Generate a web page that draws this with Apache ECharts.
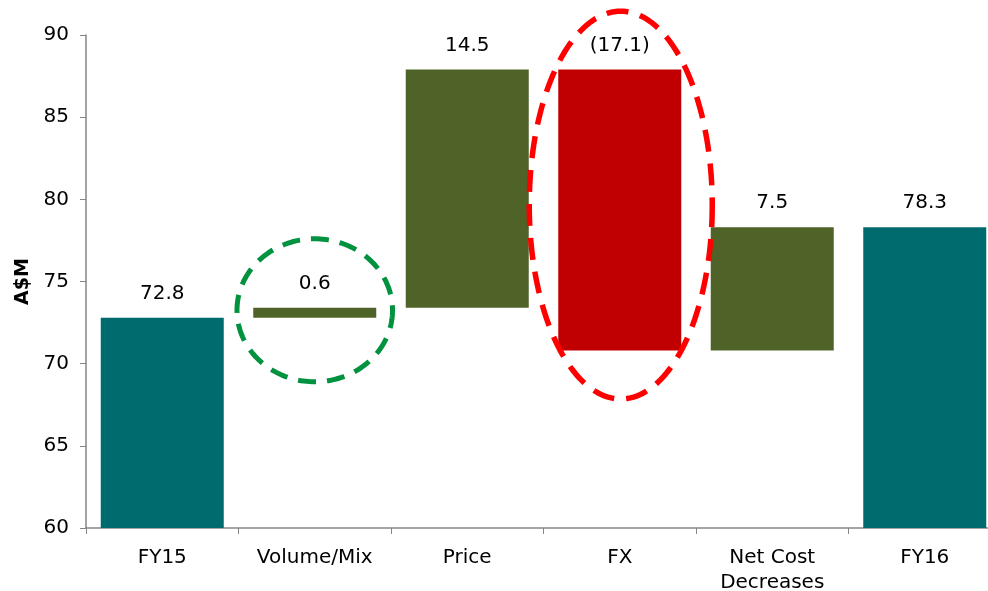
<!DOCTYPE html>
<html><head><meta charset="utf-8">
<script src="https://cdn.jsdelivr.net/npm/echarts@6/dist/echarts.min.js"></script>
<style>html,body{margin:0;padding:0;background:#fff}#c{width:988px;height:591px}</style>
</head><body><div id="c"></div>
<script>
const categories = ['FY15', 'Volume/Mix', 'Price', 'FX', 'Net Cost\nDecreases', 'FY16'];
const values = [72.8, 0.6, 14.5, -17.1, 7.5, 78.3];
const kinds = ['total', 'delta', 'delta', 'delta', 'delta', 'total'];
const yTicks = [60, 65, 70, 75, 80, 85, 90];

const TEAL = '#006B6E', OLIVE = '#4F6228', RED = '#C00000';

// running totals for waterfall
const base = [], pos = [], neg = [], tot = [];
let run = 0;
values.forEach((v, i) => {
  if (kinds[i] === 'total') {
    run = v;
    base.push(0); tot.push(v); pos.push('-'); neg.push('-');
  } else {
    const start = run, end = run + v;
    base.push(Math.min(start, end));
    if (v >= 0) { pos.push(v); neg.push('-'); } else { neg.push(-v); pos.push('-'); }
    tot.push('-');
    run = end;
  }
});

const fmt = v => v < 0 ? '(' + Math.abs(v).toFixed(1) + ')' : v.toFixed(1);
const font = 'DejaVu Sans';
const labelOpt = () => ({
  show: true, position: 'top', distance: 14, color: '#000',
  fontFamily: font, fontSize: 20,
  formatter: p => fmt(values[p.dataIndex])
});

const chart = echarts.init(document.getElementById('c'));
chart.setOption({
  animation: false,
  grid: { left: 86, right: -13, top: 35, bottom: 63, containLabel: false, outerBoundsMode: 'none' },
  xAxis: {
    type: 'category', data: categories,
    axisLine: { lineStyle: { color: '#868686', width: 1.5 } },
    axisTick: { show: true, length: 6, lineStyle: { color: '#868686' } },
    axisLabel: { color: '#000', fontFamily: font, fontSize: 20, margin: 17, lineHeight: 25, interval: 0 }
  },
  yAxis: {
    type: 'value', min: 60, max: 90, interval: 5,
    name: 'A$M', nameLocation: 'middle', nameGap: 52, nameRotate: 90,
    nameTextStyle: { color: '#000', fontFamily: font, fontSize: 19, fontWeight: 'bold' },
    axisLine: { show: true, lineStyle: { color: '#868686', width: 1.5 } },
    axisTick: { show: true, length: 6, lineStyle: { color: '#868686' } },
    splitLine: { show: false },
    axisLabel: { color: '#000', fontFamily: font, fontSize: 20, margin: 17,
      formatter: v => yTicks.includes(v) ? String(v) : '' }
  },
  series: [
    { type: 'bar', stack: 'w', data: base, barWidth: 123, itemStyle: { color: 'transparent' }, silent: true },
    { type: 'bar', stack: 'w', data: pos, barWidth: 123, itemStyle: { color: OLIVE }, label: labelOpt() },
    { type: 'bar', stack: 'w', data: neg, barWidth: 123, itemStyle: { color: RED }, label: labelOpt() },
    { type: 'bar', stack: 'w', data: tot, barWidth: 123, itemStyle: { color: TEAL }, label: labelOpt() }
  ]
});

// dashed ellipse annotations, positioned via axis scales
function ellipsePts(cx, cy, rx, ry) {
  const pts = [];
  for (let k = 0; k < 180; k++) {
    const a = k / 180 * Math.PI * 2;
    pts.push([cx + rx * Math.cos(a), cy + ry * Math.sin(a)]);
  }
  return pts;
}
const catW = chart.convertToPixel({ xAxisIndex: 0 }, categories[1]) - chart.convertToPixel({ xAxisIndex: 0 }, categories[0]);
const unit = chart.convertToPixel({ yAxisIndex: 0 }, 60) - chart.convertToPixel({ yAxisIndex: 0 }, 61);
const g1 = chart.convertToPixel({ xAxisIndex: 0, yAxisIndex: 0 }, [categories[1], 73.25]);
const g2 = chart.convertToPixel({ xAxisIndex: 0, yAxisIndex: 0 }, [categories[3], 79.65]);
chart.setOption({
  graphic: [
    { type: 'polygon', shape: { points: ellipsePts(g1[0], g1[1], catW * 0.51, unit * 4.35) },
      style: { fill: 'none', stroke: '#00923F', lineWidth: 5, lineDash: [18, 11] }, z: 10 },
    { type: 'polygon', shape: { points: ellipsePts(g2[0] + 1, g2[1], catW * 0.6, unit * 11.8) },
      style: { fill: 'none', stroke: '#FF0000', lineWidth: 5.5, lineDash: [22, 12] }, z: 10 }
  ]
});
</script>
</body></html>
